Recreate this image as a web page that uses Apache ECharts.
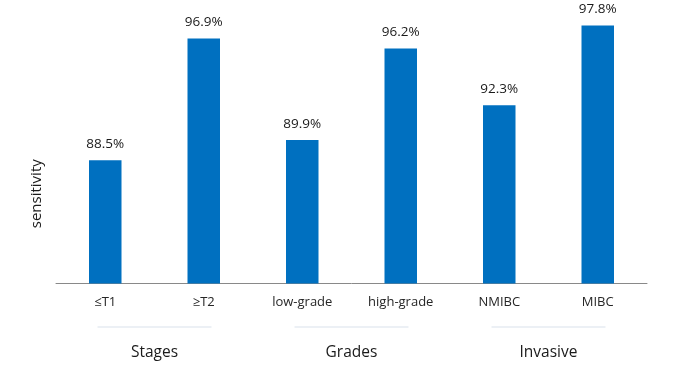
<!DOCTYPE html>
<html>
<head>
<meta charset="utf-8">
<script src="https://cdn.jsdelivr.net/npm/echarts@6/dist/echarts.min.js"></script>
<style>html,body{margin:0;padding:0;background:#fff;}#c{width:680px;height:392px;}</style>
</head>
<body>
<div id="c"></div>
<script>
const categories = ['≤T1', '≥T2', 'low-grade', 'high-grade', 'NMIBC', 'MIBC'];
const groups = ['Stages', 'Grades', 'Invasive'];
const sensitivity = [88.5, 96.9, 89.9, 96.2, 92.3, 97.8];

const chart = echarts.init(document.getElementById('c'));
const FONT = '"Open Sans", sans-serif';
chart.setOption({
  animation: false,
  grid: { left: 56, right: 33, top: 8, bottom: 108.5 },
  xAxis: [{
    type: 'category',
    data: categories,
    axisLine: { lineStyle: { color: '#898989', width: 1 } },
    axisTick: { show: false },
    axisLabel: { margin: 12, fontSize: 13, color: '#262626', fontFamily: FONT }
  }, {
    type: 'category',
    data: groups,
    position: 'bottom',
    axisLine: { show: false },
    axisTick: { show: false },
    axisLabel: {
      margin: 43,
      formatter: v => '{line|}\n{name|' + v + '}',
      rich: {
        line: { width: 114, height: 1, backgroundColor: '#d9e1ec' },
        name: { fontSize: 15.5, lineHeight: 50, color: '#1a1a1a', fontFamily: FONT }
      }
    }
  }],
  yAxis: {
    type: 'value',
    min: 80,
    max: 99,
    name: 'sensitivity',
    nameLocation: 'middle',
    nameGap: 12,
    nameTextStyle: { fontSize: 15, color: '#1a1a1a', fontFamily: FONT, padding: [0, 96, 0, 0] },
    axisLine: { show: false },
    axisTick: { show: false },
    axisLabel: { show: false },
    splitLine: { show: false }
  },
  series: [{
    type: 'bar',
    data: sensitivity,
    barWidth: 32.5,
    itemStyle: { color: '#0070C0' },
    label: {
      show: true,
      position: 'top',
      distance: 9,
      formatter: p => p.value.toFixed(1) + '%',
      fontSize: 13.5,
      color: '#1a1a1a',
      fontFamily: FONT
    }
  }]
});
</script>
</body>
</html>
